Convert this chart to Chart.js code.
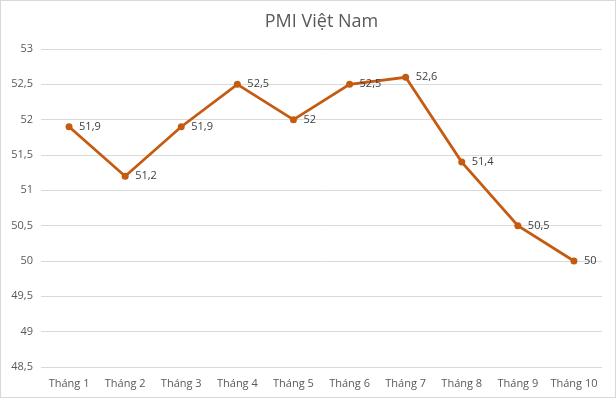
<!DOCTYPE html>
<html>
<head>
<meta charset="utf-8">
<script src="https://cdn.jsdelivr.net/npm/chart.js@4/dist/chart.umd.min.js"></script>
<style>
  html, body { margin: 0; padding: 0; background: #fff; }
  #wrap { width: 616px; height: 398px; box-sizing: border-box; border: 1px solid #d9d9d9; }
  canvas { display: block; }
</style>
</head>
<body>
<div id="wrap"><canvas id="pmiChart" width="614" height="396"></canvas></div>
<script>
const months = ['Tháng 1', 'Tháng 2', 'Tháng 3', 'Tháng 4', 'Tháng 5', 'Tháng 6', 'Tháng 7', 'Tháng 8', 'Tháng 9', 'Tháng 10'];
const pmiValues = [51.9, 51.2, 51.9, 52.5, 52.0, 52.5, 52.6, 51.4, 50.5, 50.0];
const chartTitle = 'PMI Việt Nam';

const fmt = (v) => String(Number(v.toFixed(1))).replace('.', ',');
const FONT = '"Open Sans", "Noto Sans", sans-serif';

// title + value labels drawn by hand, Excel style
const extras = {
  id: 'extras',
  afterDatasetsDraw(c) {
    const ctx = c.ctx;
    ctx.save();
    ctx.fillStyle = '#595959';
    ctx.font = '18px ' + FONT;
    ctx.textAlign = 'center';
    ctx.textBaseline = 'middle';
    ctx.fillText(chartTitle, (c.chartArea.left + c.chartArea.right) / 2, 21);

    ctx.fillStyle = '#404040';
    ctx.font = '11px ' + FONT;
    ctx.textAlign = 'left';
    c.getDatasetMeta(0).data.forEach((pt, i) => {
      ctx.fillText(fmt(pmiValues[i]), pt.x + 10, pt.y);
    });
    ctx.restore();
  }
};

new Chart(document.getElementById('pmiChart'), {
  type: 'line',
  data: {
    labels: months,
    datasets: [{
      data: pmiValues,
      borderColor: '#c55a11',
      backgroundColor: '#c55a11',
      borderWidth: 2.75,
      pointRadius: 3.5,
      pointBackgroundColor: '#c55a11',
      pointBorderWidth: 0,
      tension: 0
    }]
  },
  options: {
    responsive: false,
    animation: false,
    layout: { padding: { top: 48, right: 13, left: 0, bottom: 0 } },
    plugins: { legend: { display: false }, title: { display: false }, tooltip: { enabled: false } },
    scales: {
      x: {
        offset: true,
        grid: { display: false },
        border: { display: false },
        ticks: { color: '#595959', font: { family: FONT, size: 11 }, padding: 2, maxRotation: 0 },
        afterFit: (s) => { s.height = 30; }
      },
      y: {
        min: 48.5,
        max: 53,
        grid: { color: '#d9d9d9', drawTicks: false },
        border: { display: false },
        ticks: {
          stepSize: 0.5,
          color: '#595959',
          font: { family: FONT, size: 11 },
          padding: 8,
          callback: (v) => fmt(v)
        },
        afterFit: (s) => { s.width = 40; }
      }
    }
  },
  plugins: [extras]
});
</script>
</body>
</html>
